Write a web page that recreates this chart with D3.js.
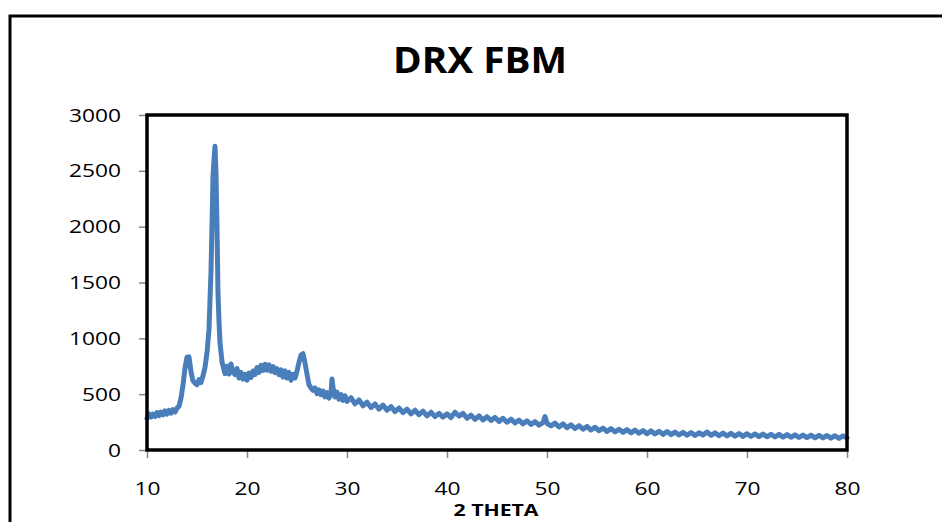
<!DOCTYPE html>
<html>
<head>
<meta charset="utf-8">
<script src="https://cdn.jsdelivr.net/npm/d3@7"></script>
<style>
  body { margin: 0; background: #fff; }
  svg { display: block; font-family: "Open Sans", "Liberation Sans", sans-serif; }
  .axis { font-family: "Open Sans", "Liberation Sans", sans-serif; }
  .tick text { fill: #000; font-size: 19px; }
  .tick line { stroke: #868686; stroke-width: 1.5; }
</style>
</head>
<body>
<div id="chart"></div>
<script>
// XRD scan: [2 theta, counts]
var scanLow = [
  [10.0, 285], [10.2, 325], [10.4, 295], [10.6, 322], [10.8, 300], [11.0, 335], [11.2, 308],
  [11.4, 340], [11.6, 315], [11.8, 350], [12.0, 322], [12.2, 355], [12.4, 330], [12.6, 362],
  [12.8, 340], [13.0, 375], [13.2, 392], [13.4, 465], [13.6, 580], [13.8, 735], [14.0, 830],
  [14.1, 755], [14.2, 835], [14.4, 700], [14.6, 620], [14.8, 598], [15.0, 585], [15.2, 630],
  [15.4, 605], [15.6, 665], [15.8, 740], [16.0, 870], [16.2, 1080], [16.4, 1600], [16.5, 2000],
  [16.6, 2450], [16.7, 2600], [16.8, 2720], [16.9, 2480], [17.0, 2000], [17.1, 1400],
  [17.2, 1150], [17.3, 960], [17.5, 790], [17.7, 720], [17.8, 685], [18.0, 750], [18.2, 680],
  [18.4, 770], [18.6, 695], [18.8, 675], [19.0, 730], [19.2, 645], [19.4, 695], [19.6, 635],
  [19.8, 678], [20.0, 625], [20.2, 688], [20.4, 650], [20.6, 708], [20.8, 675], [21.0, 738],
  [21.2, 695], [21.4, 758], [21.6, 712], [21.8, 768], [22.0, 715], [22.2, 762], [22.4, 705],
  [22.6, 748], [22.8, 692], [23.0, 728], [23.2, 674], [23.4, 718], [23.6, 654], [23.8, 708],
  [24.0, 645], [24.2, 696], [24.4, 625], [24.6, 678], [24.8, 645], [25.0, 705], [25.2, 785],
  [25.4, 850], [25.6, 862], [25.8, 780], [26.0, 680], [26.2, 585], [26.4, 555], [26.6, 535],
  [26.8, 555], [27.0, 505], [27.2, 538], [27.4, 495], [27.6, 528], [27.8, 475], [28.0, 515],
  [28.2, 465], [28.4, 505], [28.5, 635], [28.6, 560], [28.8, 475], [29.0, 518], [29.2, 455],
  [29.4, 496], [29.6, 445], [29.8, 486], [30.0, 436]
];

var scanHigh = [
  [30.4, 468], [30.8, 414], [31.2, 448], [31.6, 396], [32.0, 428], [32.4, 380], [32.8, 412],
  [33.2, 366], [33.6, 402], [34.0, 356], [34.4, 388], [34.8, 344], [35.2, 376], [35.6, 334],
  [36.0, 366], [36.4, 324], [36.8, 356], [37.2, 316], [37.6, 348], [38.0, 306], [38.4, 338],
  [38.8, 299], [39.2, 328], [39.6, 294], [40.0, 324], [40.4, 290], [40.8, 338], [41.2, 304],
  [41.6, 328], [42.0, 284], [42.4, 312], [42.8, 274], [43.2, 306], [43.6, 269], [44.0, 298],
  [44.4, 264], [44.8, 292], [45.2, 256], [45.6, 284], [46.0, 249], [46.4, 276], [46.8, 242],
  [47.2, 268], [47.6, 234], [48.0, 261], [48.4, 229], [48.8, 254], [49.2, 222], [49.6, 246],
  [49.8, 300], [50.0, 239], [50.4, 216], [50.8, 241], [51.2, 206], [51.6, 234], [52.0, 199],
  [52.4, 226], [52.8, 192], [53.2, 218], [53.6, 186], [54.0, 211], [54.4, 179], [54.8, 204],
  [55.2, 172], [55.6, 196], [56.0, 166], [56.4, 191], [56.8, 162], [57.2, 186], [57.6, 158],
  [58.0, 182], [58.4, 154], [58.8, 178], [59.2, 150], [59.6, 174], [60.0, 146], [60.4, 171],
  [60.8, 144], [61.2, 168], [61.6, 140], [62.0, 166], [62.4, 138], [62.8, 161], [63.2, 134],
  [63.6, 158], [64.0, 132], [64.4, 156], [64.8, 130], [65.2, 154], [65.6, 134], [66.0, 161],
  [66.4, 132], [66.8, 154], [67.2, 128], [67.6, 152], [68.0, 126], [68.4, 150], [68.8, 124],
  [69.2, 148], [69.6, 122], [70.0, 146], [70.4, 121], [70.8, 144], [71.2, 120], [71.6, 143],
  [72.0, 118], [72.4, 141], [72.8, 116], [73.2, 140], [73.6, 115], [74.0, 138], [74.4, 114],
  [74.8, 136], [75.2, 112], [75.6, 134], [76.0, 111], [76.4, 133], [76.8, 109], [77.2, 131],
  [77.6, 108], [78.0, 130], [78.4, 106], [78.8, 128], [79.2, 104], [79.6, 126], [80.0, 108]
];

var xTicks = [10, 20, 30, 40, 50, 60, 70, 80];
var yTicks = [0, 500, 1000, 1500, 2000, 2500, 3000];

function drxChart () {

  var width = 942;
  var height = 522;

  var svg = d3.select("#chart")
    .append("svg")
    .attr("width", width)
    .attr("height", height);

  // outer chart border, runs off the right and bottom of the picture
  svg.append("rect")
    .attr("x", 10)
    .attr("y", 16)
    .attr("width", 1000)
    .attr("height", 600)
    .attr("fill", "none")
    .attr("stroke", "#000")
    .attr("stroke-width", 3);

  var plot = { left: 147, right: 847, top: 115, bottom: 450 };

  var x = d3.scaleLinear()
    .domain([10, 80])
    .range([plot.left, plot.right]);

  var y = d3.scaleLinear()
    .domain([0, 3000])
    .range([plot.bottom, plot.top]);

  var xAxis = d3.axisBottom(x)
    .tickValues(xTicks)
    .tickSize(8)
    .tickPadding(24)
    .tickFormat(d3.format("d"));

  var yAxis = d3.axisLeft(y)
    .tickValues(yTicks)
    .tickSize(8)
    .tickPadding(18)
    .tickFormat(d3.format("d"));

  // the labels in the picture are drawn a bit wider than the font
  var stretch = t => t.attr("textLength", d => String(d).length * 13)
    .attr("lengthAdjust", "spacingAndGlyphs");

  svg.append("g")
    .attr("class", "axis xAxis")
    .attr("transform", `translate(0, ${plot.bottom})`)
    .call(xAxis)
    .call(g => g.attr("font-family", null).attr("font-size", null))
    .call(g => g.select(".domain").remove())
    .call(g => g.selectAll(".tick text").call(stretch));

  svg.append("g")
    .attr("class", "axis yAxis")
    .attr("transform", `translate(${plot.left}, 0)`)
    .call(yAxis)
    .call(g => g.attr("font-family", null).attr("font-size", null))
    .call(g => g.select(".domain").remove())
    .call(g => g.selectAll(".tick text").call(stretch));

  var scan = scanLow.concat(scanHigh);

  var line = d3.line()
    .x(d => x(d[0]))
    .y(d => y(d[1]));

  svg.append("path")
    .datum(scan)
    .attr("d", line)
    .attr("fill", "none")
    .attr("stroke", "#4a7ebb")
    .attr("stroke-width", 5)
    .attr("stroke-linejoin", "round")
    .attr("stroke-linecap", "round");

  // plot area frame
  svg.append("rect")
    .attr("x", plot.left)
    .attr("y", plot.top)
    .attr("width", plot.right - plot.left)
    .attr("height", plot.bottom - plot.top)
    .attr("fill", "none")
    .attr("stroke", "#000")
    .attr("stroke-width", 3.5);

  svg.append("text")
    .attr("x", 480)
    .attr("y", 73)
    .attr("text-anchor", "middle")
    .attr("textLength", 174)
    .attr("lengthAdjust", "spacingAndGlyphs")
    .style("font-size", "36px")
    .style("font-weight", "bold")
    .text("DRX FBM");

  svg.append("text")
    .attr("x", 496)
    .attr("y", 516)
    .attr("text-anchor", "middle")
    .attr("textLength", 85)
    .attr("lengthAdjust", "spacingAndGlyphs")
    .style("font-size", "16px")
    .style("font-weight", "bold")
    .text("2 THETA");
}

drxChart();
</script>
</body>
</html>
